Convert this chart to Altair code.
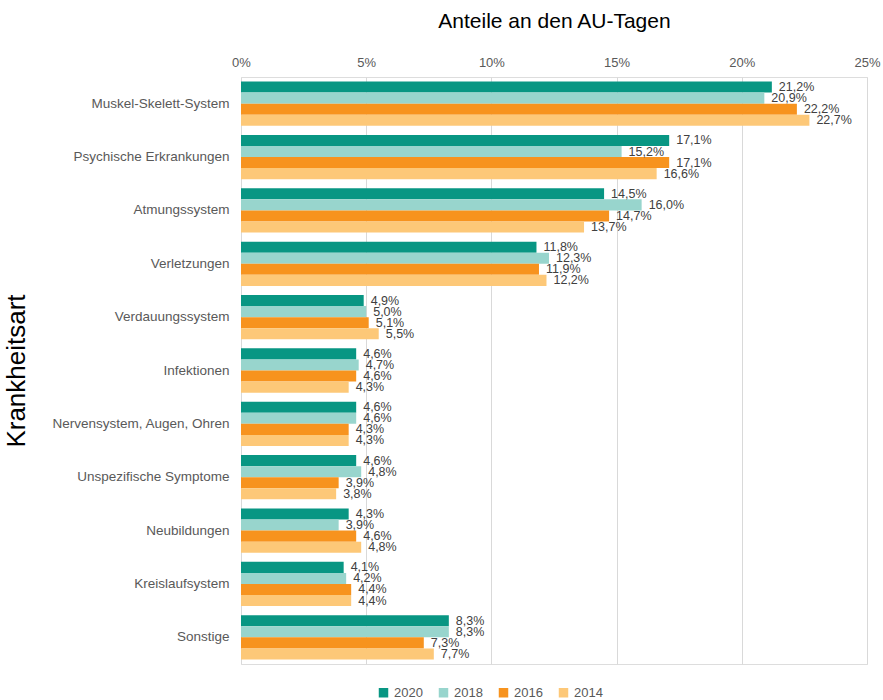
import altair as alt
import pandas as pd

categories = ["Muskel-Skelett-System", "Psychische Erkrankungen", "Atmungssystem",
              "Verletzungen", "Verdauungssystem", "Infektionen",
              "Nervensystem, Augen, Ohren", "Unspezifische Symptome", "Neubildungen",
              "Kreislaufsystem", "Sonstige"]
years = ["2020", "2018", "2016", "2014"]
v2020 = [21.2, 17.1, 14.5, 11.8, 4.9, 4.6, 4.6, 4.6, 4.3, 4.1, 8.3]
v2018 = [20.9, 15.2, 16.0, 12.3, 5.0, 4.7, 4.6, 4.8, 3.9, 4.2, 8.3]
v2016 = [22.2, 17.1, 14.7, 11.9, 5.1, 4.6, 4.3, 3.9, 4.6, 4.4, 7.3]
v2014 = [22.7, 16.6, 13.7, 12.2, 5.5, 4.3, 4.3, 3.8, 4.8, 4.4, 7.7]
tick_values = [0, 5, 10, 15, 20, 25]
colors = ["#089683", "#98d5cd", "#f7931e", "#fdc878"]

rows = []
for y, vals in zip(years, [v2020, v2018, v2016, v2014]):
    for c, v in zip(categories, vals):
        rows.append({"Krankheitsart": c, "Jahr": y, "Wert": v,
                     "Label": f"{v:.1f}".replace(".", ",") + "%"})
df = pd.DataFrame(rows)

font = "Liberation Sans"

base = alt.Chart(df).encode(
    y=alt.Y("Krankheitsart:N", sort=categories,
            scale=alt.Scale(paddingInner=0.17, paddingOuter=0.085),
            axis=alt.Axis(title="Krankheitsart", titleFontSize=26, titleFont=font,
                          titleFontWeight="normal", titleColor="#000000",
                          titleX=-225, titleAngle=-90, titleBaseline="middle",
                          labelFont=font, labelFontSize=13.5, labelColor="#595959",
                          labelPadding=12, ticks=False, domain=False, grid=False)),
    yOffset=alt.YOffset("Jahr:N", sort=years),
)

bars = base.mark_bar().encode(
    x=alt.X("Wert:Q", scale=alt.Scale(domain=[0, 25], nice=False),
            axis=alt.Axis(orient="top", title="Anteile an den AU-Tagen",
                          values=tick_values,
                          labelExpr="datum.value + '%'",
                          labelFlush=False,
                          titleFontSize=21, titleFont=font, titleFontWeight="normal",
                          titleColor="#000000", titlePadding=25,
                          labelFont=font, labelFontSize=13, labelColor="#595959",
                          labelPadding=8, ticks=False, domain=False,
                          grid=True, gridColor="#d9d9d9")),
    color=alt.Color("Jahr:N", sort=years,
                    scale=alt.Scale(domain=years, range=colors),
                    legend=alt.Legend(title=None, orient="none", direction="horizontal",
                                      legendX=136, legendY=609,
                                      symbolType="square", symbolSize=90,
                                      symbolStrokeWidth=0,
                                      labelFont=font, labelFontSize=13,
                                      labelColor="#595959", columnPadding=14)),
)

text = base.mark_text(align="left", dx=7, font=font, fontSize=12.5,
                      color="#404040").encode(
    x="Wert:Q",
    text="Label:N",
)

chart = (bars + text).properties(
    width=626, height=587,
    autosize=alt.AutoSizeParams(type="none"),
    padding={"left": 241, "top": 77, "right": 16, "bottom": 36},
).configure_view(stroke=None).configure(background="white")

chart.save("out.html", embed_options={"renderer": "svg", "actions": False})
